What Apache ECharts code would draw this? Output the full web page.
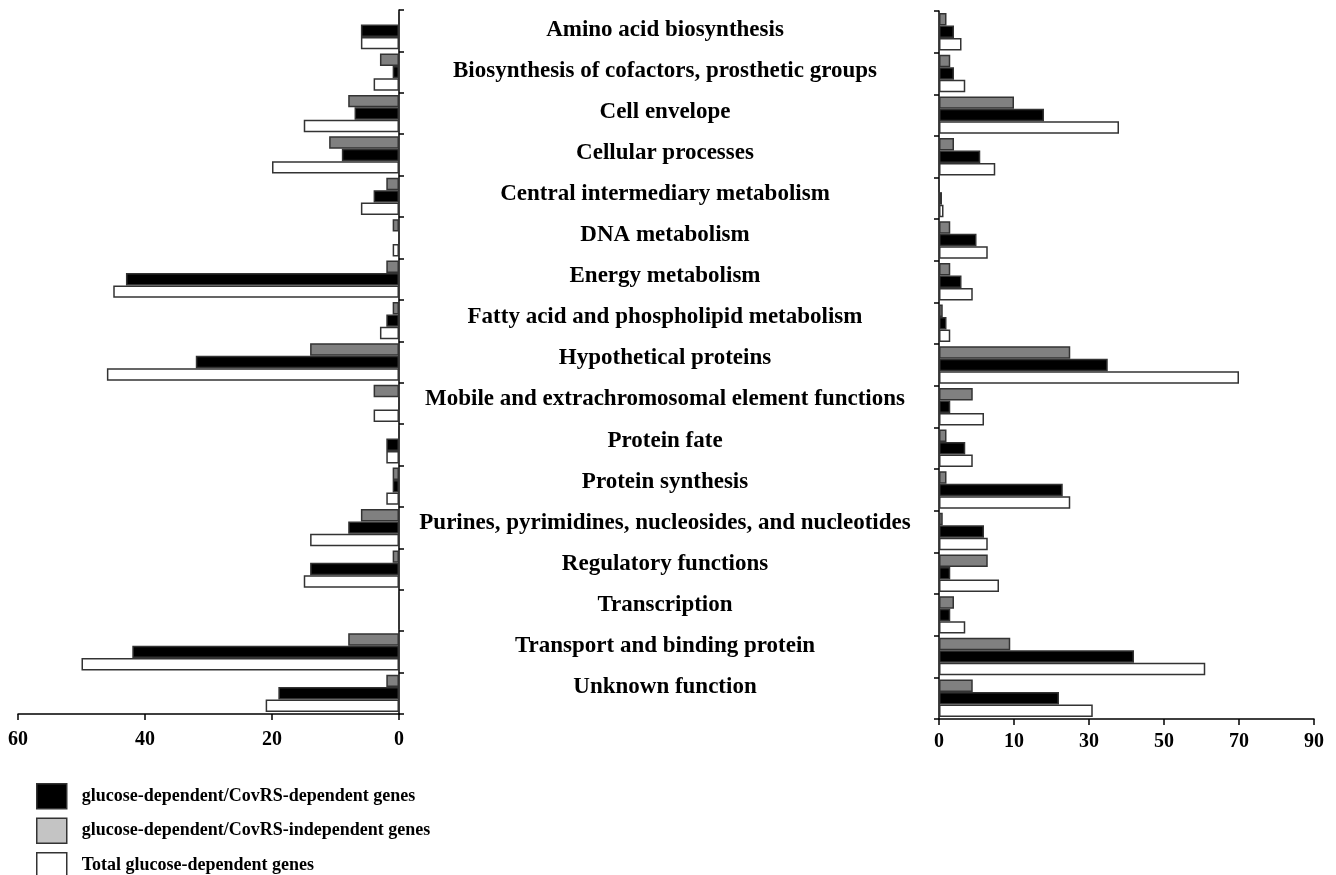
<!DOCTYPE html>
<html>
<head>
<meta charset="utf-8">
<script src="https://cdn.jsdelivr.net/npm/echarts@6/dist/echarts.min.js"></script>
<style>
  html, body { margin: 0; padding: 0; background: #fff; }
  #chart { width: 1336px; height: 875px; }
</style>
</head>
<body>
<div id="chart"></div>
<script>
// Functional role categories, listed top to bottom
const categories = [
  'Amino acid biosynthesis',
  'Biosynthesis of cofactors, prosthetic groups',
  'Cell envelope',
  'Cellular processes',
  'Central intermediary metabolism',
  'DNA metabolism',
  'Energy metabolism',
  'Fatty acid and phospholipid metabolism',
  'Hypothetical proteins',
  'Mobile and extrachromosomal element functions',
  'Protein fate',
  'Protein synthesis',
  'Purines, pyrimidines, nucleosides, and nucleotides',
  'Regulatory functions',
  'Transcription',
  'Transport and binding protein',
  'Unknown function'
];

// Series names
const nameDep = 'glucose-dependent/CovRS-dependent genes';
const nameIndep = 'glucose-dependent/CovRS-independent genes';
const nameTotal = 'Total glucose-dependent genes';

// Left panel (bars grow to the left)
const leftIndep = [0, 3, 8, 11, 2, 1, 2, 1, 14, 4, 0, 1, 6, 1, 0, 8, 2];
const leftDep   = [6, 1, 7, 9, 4, 0, 43, 2, 32, 0, 2, 1, 8, 14, 0, 42, 19];
const leftTotal = [6, 4, 15, 20, 6, 1, 45, 3, 46, 4, 2, 2, 14, 15, 0, 50, 21];

// Right panel, in the right axis's own linear units (ticks every 20)
const rightIndep = [2, 3, 20, 4, 0, 3, 3, 1, 35, 9, 2, 2, 1, 13, 4, 19, 9];
const rightDep   = [4, 4, 28, 11, 0.8, 10, 6, 2, 45, 3, 7, 33, 12, 3, 3, 52, 32];
const rightTotal = [6, 7, 48, 15, 1.2, 13, 9, 3, 80, 12, 9, 35, 13, 16, 7, 71, 41];

// Tick labels printed under the right axis, one per tick
const rightTickLabels = ['0', '10', '30', '50', '70', '90'];

const FONT = "'Liberation Serif', 'Times New Roman', serif";
const BORDER = '#333';
const GRAY = '#808080';
const LEGEND_GRAY = '#c4c4c4';

const axisLineStyle = { color: '#000', width: 1.5 };

function barSeries(name, data, color, axisIdx) {
  return {
    name: name,
    type: 'bar',
    xAxisIndex: axisIdx,
    yAxisIndex: axisIdx,
    data: data,
    barGap: '0%',
    barCategoryGap: '10%',
    itemStyle: { color: color, borderColor: BORDER, borderWidth: 1.5 },
    emphasis: { disabled: true },
    silent: true
  };
}

const chart = echarts.init(document.getElementById('chart'), null, { renderer: 'canvas' });

chart.setOption({
  animation: false,
  backgroundColor: '#fff',
  textStyle: { fontFamily: FONT },
  grid: [
    { left: 18, top: 10, width: 381, height: 704 },
    { left: 939, top: 11, width: 375, height: 708 },
    { left: 665, top: 9.5, width: 10, height: 698 }
  ],
  xAxis: [
    {
      gridIndex: 0, type: 'value', min: 0, max: 60, interval: 20, inverse: true,
      axisLine: { show: true, lineStyle: axisLineStyle },
      axisTick: { show: true, length: 6, lineStyle: axisLineStyle },
      splitLine: { show: false },
      axisLabel: { color: '#000', fontFamily: FONT, fontWeight: 'bold', fontSize: 20, margin: 16 }
    },
    {
      gridIndex: 1, type: 'value', min: 0, max: 100, interval: 20,
      axisLine: { show: true, lineStyle: axisLineStyle },
      axisTick: { show: true, length: 6, lineStyle: axisLineStyle },
      splitLine: { show: false },
      axisLabel: {
        color: '#000', fontFamily: FONT, fontWeight: 'bold', fontSize: 20, margin: 13,
        formatter: function (v) { return rightTickLabels[Math.round(v / 20)]; }
      }
    },
    { gridIndex: 2, type: 'value', min: 0, max: 1, show: false }
  ],
  yAxis: [
    {
      gridIndex: 0, type: 'category', data: categories, inverse: true, position: 'right',
      axisLine: { show: true, lineStyle: axisLineStyle },
      axisTick: { show: true, length: 5, lineStyle: axisLineStyle },
      axisLabel: { show: false }
    },
    {
      gridIndex: 1, type: 'category', data: categories, inverse: true, position: 'left',
      axisLine: { show: true, lineStyle: axisLineStyle },
      axisTick: { show: true, length: 5, lineStyle: axisLineStyle },
      axisLabel: { show: false }
    },
    {
      gridIndex: 2, type: 'category', data: categories, inverse: true, position: 'left',
      axisLine: { show: false }, axisTick: { show: false },
      axisLabel: {
        show: true, interval: 0, align: 'center', margin: 0,
        color: '#000', fontFamily: FONT, fontWeight: 'bold', fontSize: 23
      }
    }
  ],
  legend: {
    orient: 'vertical', left: 36, top: 783, height: 120, padding: 0,
    itemWidth: 30, itemHeight: 25, itemGap: 8,
    icon: 'rect',
    selectedMode: false,
    textStyle: { color: '#000', fontFamily: FONT, fontWeight: 'bold', fontSize: 18, padding: [0, 0, 0, 10] },
    data: [
      { name: nameDep, itemStyle: { color: '#000', borderColor: BORDER, borderWidth: 1.5 } },
      { name: nameIndep, itemStyle: { color: LEGEND_GRAY, borderColor: BORDER, borderWidth: 1.5 } },
      { name: nameTotal, itemStyle: { color: '#fff', borderColor: BORDER, borderWidth: 1.5 } }
    ]
  },
  series: [
    barSeries(nameIndep, leftIndep, GRAY, 0),
    barSeries(nameDep, leftDep, '#000', 0),
    barSeries(nameTotal, leftTotal, '#fff', 0),
    barSeries(nameIndep, rightIndep, GRAY, 1),
    barSeries(nameDep, rightDep, '#000', 1),
    barSeries(nameTotal, rightTotal, '#fff', 1)
  ]
});
</script>
</body>
</html>
